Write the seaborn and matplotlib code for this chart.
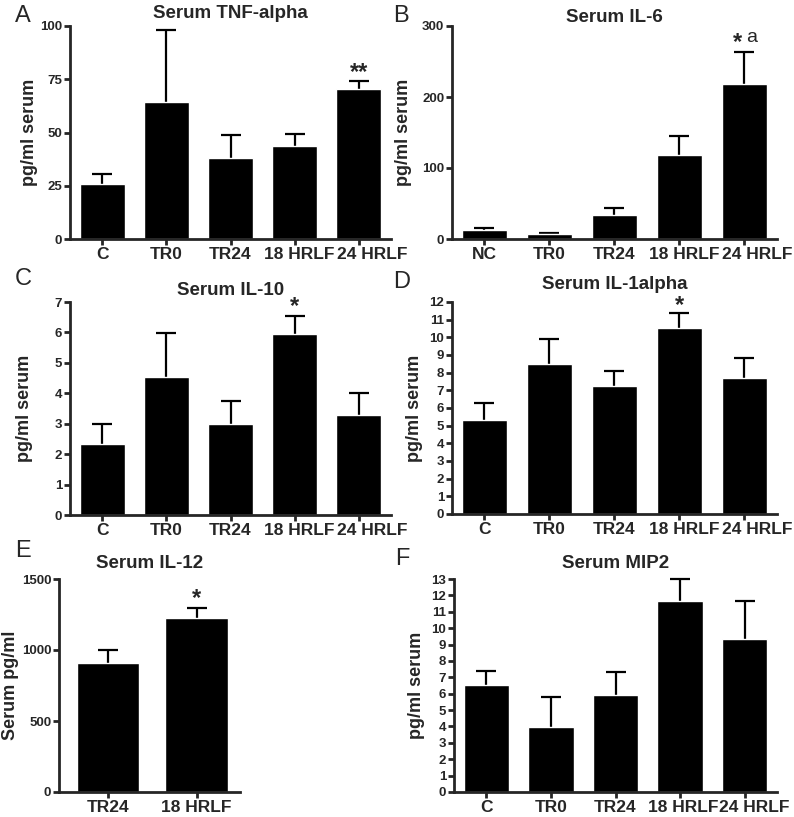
import numpy as np
import pandas as pd
import matplotlib
matplotlib.use('Agg')
import matplotlib.pyplot as plt
import matplotlib.transforms as mtransforms
import seaborn as sns

# ---- data ----
groups5 = ['C', 'TR0', 'TR24', '18 HRLF', '24 HRLF']
groups_il6 = ['NC', 'TR0', 'TR24', '18 HRLF', '24 HRLF']
groups_il12 = ['TR24', '18 HRLF']

tnf_mean = [25.8, 64.5, 38.0, 43.5, 70.5]
tnf_top = [30.5, 98.0, 49.0, 49.5, 74.0]

il6_mean = [12.0, 7.0, 34.0, 119.0, 219.0]
il6_top = [15.0, 9.0, 44.0, 145.0, 263.0]

il10_mean = [2.33, 4.55, 3.0, 5.95, 3.3]
il10_top = [3.0, 5.97, 3.75, 6.55, 4.0]

il1a_mean = [5.33, 8.5, 7.25, 10.55, 7.7]
il1a_top = [6.27, 9.9, 8.1, 11.37, 8.85]

il12_mean = [910.0, 1225.0]
il12_top = [1000.0, 1295.0]

mip2_mean = [6.55, 3.95, 5.95, 11.65, 9.35]
mip2_top = [7.4, 5.8, 7.35, 13.0, 11.65]

sns.set_style('ticks')
plt.rcParams['font.family'] = ['Liberation Sans', 'DejaVu Sans']
plt.rcParams['font.weight'] = 'bold'

W, H = 794, 817
fig = plt.figure(figsize=(W / 100, H / 100), dpi=100)


def px_axes(l, t, r, b):
    return fig.add_axes([l / W, 1 - b / H, (r - l) / W, (b - t) / H])


def panel(box, groups, mean, top, title, ylabel, ymax, ystep, xlim, title_pad,
          lab_x, label_shift):
    ax = px_axes(*box)
    df = pd.DataFrame({'group': groups, 'value': mean})
    upper = np.array(top) - np.array(mean)
    eb = ax.errorbar(np.arange(len(groups)), mean, yerr=[np.zeros(len(groups)), upper],
                     fmt='none', ecolor='black', elinewidth=1.6, capsize=7.5,
                     capthick=1.6, zorder=1, clip_on=False)
    eb[1][0].remove()  # only the upper cap, like Prism
    sns.barplot(data=df, x='group', y='value', color='black', saturation=1,
                width=0.7, errorbar=None, ax=ax, zorder=2)
    ax.set_ylim(0, ymax)
    ax.set_xlim(*xlim)
    ax.set_yticks(np.arange(0, ymax + ystep / 2, ystep))
    ax.set_xlabel('')
    ax.set_ylabel(ylabel, fontsize=13, fontweight='bold')
    ax.yaxis.set_label_coords(lab_x, 0.5)
    ax.set_title(title, fontsize=13.5, fontweight='bold', pad=title_pad)
    sns.despine(ax=ax)
    for s in ['left', 'bottom']:
        ax.spines[s].set_linewidth(2)
    ax.tick_params(axis='x', length=4.5, width=2, labelsize=12.5, pad=1)
    ax.tick_params(axis='y', length=4.5, width=2, labelsize=9.5, pad=1)
    for lab in ax.get_xticklabels() + ax.get_yticklabels():
        lab.set_fontweight('bold')
    # long labels sit a little right of their ticks in the original
    for lab, dx in zip(ax.get_xticklabels(), label_shift):
        off = mtransforms.ScaledTranslation(dx / 100, 0, fig.dpi_scale_trans)
        lab.set_transform(lab.get_transform() + off)
    return ax


def star(ax, i, y, text, dx=0, weight='bold', size=17, dy=2):
    ax.annotate(text, xy=(i, y), xytext=(dx, dy), textcoords='offset points',
                ha='center', va='baseline', fontsize=size, fontweight=weight,
                annotation_clip=False)


shift5 = [0, 0, 0, 5, 13]

ax = panel((70, 26, 391, 239), groups5, tnf_mean, tnf_top, 'Serum TNF-alpha',
           'pg/ml serum', 100, 25, (-0.5, 4.5), 5.5, -32 / 321, shift5)
star(ax, 4, tnf_top[4], '**')

ax = panel((452, 26, 777, 239), groups_il6, il6_mean, il6_top, 'Serum IL-6',
           'pg/ml serum', 300, 100, (-0.5, 4.5), 3, -40 / 325, shift5)
star(ax, 4, il6_top[4], '*', dx=-5)
ax.annotate('a', xy=(4, il6_top[4]), xytext=(5, 7.5), textcoords='offset points',
            ha='center', va='baseline', fontsize=14, fontweight='normal',
            annotation_clip=False)

ax = panel((70, 302, 391, 515), groups5, il10_mean, il10_top, 'Serum IL-10',
           'pg/ml serum', 7, 1, (-0.5, 4.5), 5, -37 / 321, shift5)
star(ax, 3, il10_top[3], '*')

ax = panel((452, 302, 777, 514), groups5, il1a_mean, il1a_top, 'Serum IL-1alpha',
           'pg/ml serum', 12, 1, (-0.5, 4.5), 9, -29 / 325, shift5)
star(ax, 3, il1a_top[3], '*', dy=1)

ax = panel((59, 579, 240, 792), groups_il12, il12_mean, il12_top, 'Serum IL-12',
           'Serum pg/ml', 1500, 500, (-0.55, 1.49), 8, -40 / 181, [0, 0])
star(ax, 1, il12_top[1], '*')

ax = panel((454, 579, 777, 792), groups5, mip2_mean, mip2_top, 'Serum MIP2',
           'pg/ml serum', 13, 1, (-0.5, 4.5), 8, -29 / 323, [0, 0, 0, 3, 10])

# panel letters
for letter, x, y in [('A', 15, 22), ('B', 393, 22), ('C', 15, 285),
                     ('D', 393, 288), ('E', 15, 557), ('F', 395, 565)]:
    fig.text(x / W, 1 - y / H, letter, fontsize=17, fontweight='normal',
             ha='left', va='baseline')

fig.savefig('out.png', dpi=100)
